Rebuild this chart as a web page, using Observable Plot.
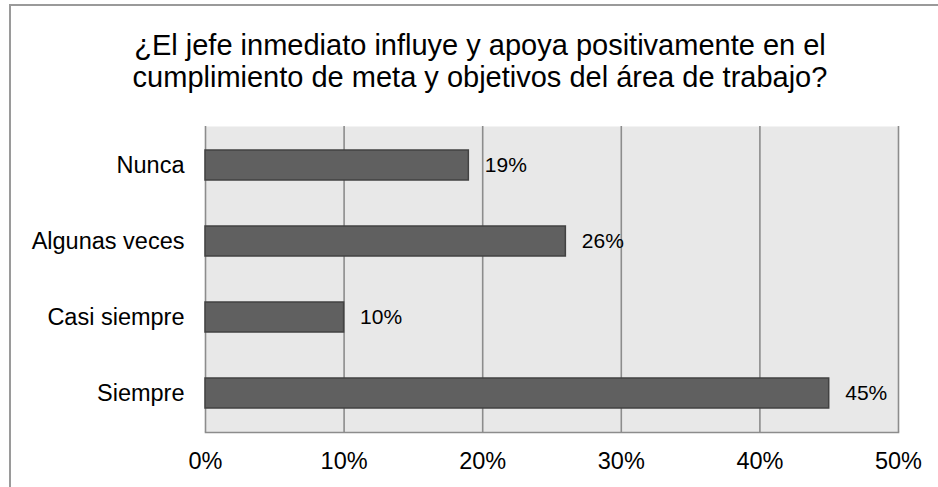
<!DOCTYPE html>
<html>
<head>
<meta charset="utf-8">
<script src="https://cdn.jsdelivr.net/npm/d3@7"></script>
<script src="https://cdn.jsdelivr.net/npm/@observablehq/plot@0.6"></script>
<style>
  html, body { margin: 0; padding: 0; background: #fff; }
  #wrap { position: relative; width: 938px; height: 487px; overflow: hidden; font-family: "Liberation Sans", Arial, sans-serif; }
  #border { position: absolute; left: 9px; top: 4px; width: 960px; height: 520px; border: 2px solid #9a9a9a; box-sizing: border-box; }
  #title { position: absolute; left: 10px; width: 940px; top: 29px; text-align: center; font-size: 29px; line-height: 32px; color: #000; }
  #chart { position: absolute; left: 0; top: 110px; }
</style>
</head>
<body>
<div id="wrap">
  <div id="border"></div>
  <div id="title">¿El jefe inmediato influye y apoya positivamente en el<br>cumplimiento de meta y objetivos del área de trabajo?</div>
  <div id="chart"></div>
</div>
<script>
const categories = ["Nunca", "Algunas veces", "Casi siempre", "Siempre"];
const values = [19, 26, 10, 45];
const xTicks = [0, 10, 20, 30, 40, 50];

const data = categories.map((c, i) => ({category: c, value: values[i]}));

const plot = Plot.plot({
  width: 938,
  height: 377,
  marginTop: 16,
  marginBottom: 55,
  marginLeft: 205,
  marginRight: 40,
  style: {fontFamily: "'Liberation Sans', Arial, sans-serif", fontSize: "23.5px", color: "#000", background: "transparent"},
  x: {domain: [0, 50]},
  y: {domain: categories, paddingInner: 0.6, paddingOuter: 0.3},
  marks: [
    Plot.frame({fill: "#e8e8e8", stroke: "none"}),
    Plot.ruleX(xTicks, {stroke: "#8c8c8c", strokeWidth: 1.6}),
    Plot.frame({anchor: "bottom", stroke: "#8c8c8c", strokeWidth: 1.6}),
    Plot.barX(data, {x: "value", y: "category", fill: "#606060", stroke: "#424242", strokeWidth: 1.5}),
    Plot.text(data, {x: "value", y: "category", text: d => d.value + "%", textAnchor: "start", dx: 16, fontSize: 21, fill: "#000"}),
    Plot.axisY({tickSize: 0, tickPadding: 21, label: null, fontSize: 23.5}),
    Plot.axisX({ticks: xTicks, tickSize: 0, tickPadding: 20, tickFormat: d => d + "%", label: null, fontSize: 23.5})
  ]
});
document.getElementById("chart").appendChild(plot);
</script>
</body>
</html>
